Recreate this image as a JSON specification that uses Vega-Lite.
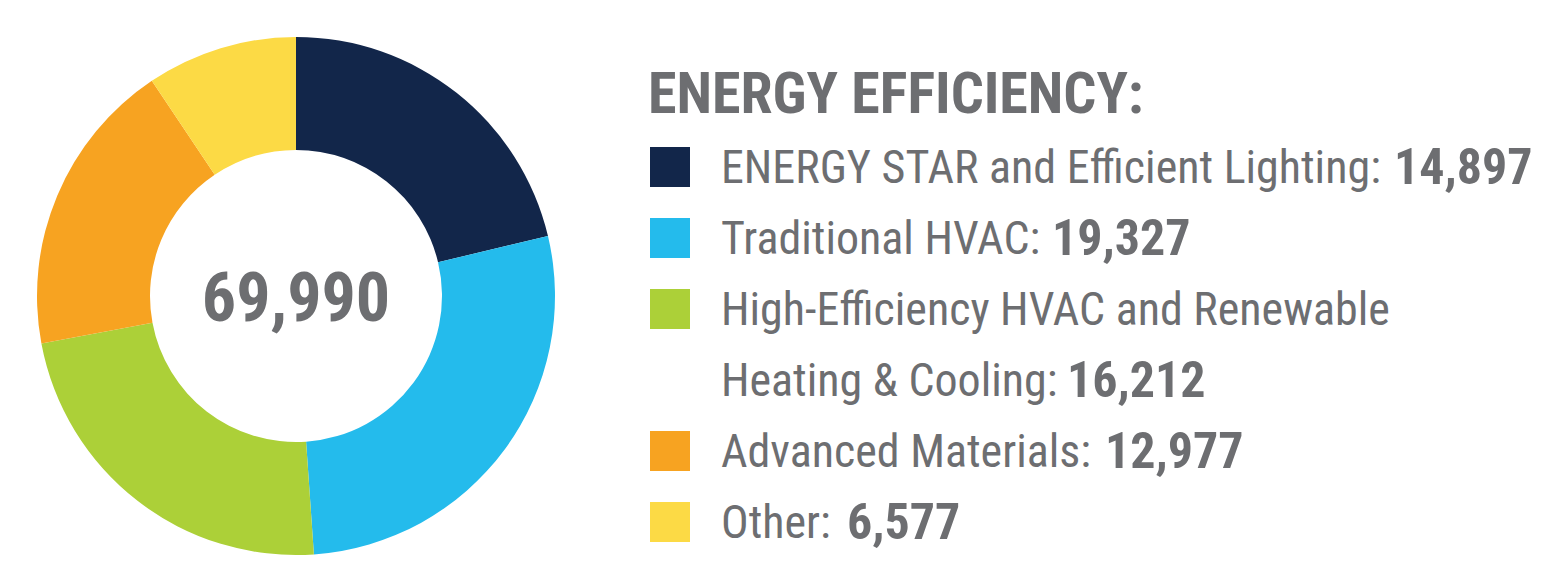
{
  "$schema": "https://vega.github.io/schema/vega-lite/v6.json",
  "padding": {"top": 9, "left": 0, "right": 0, "bottom": 0},
  "spacing": 0,
  "background": "white",
  "config": {"view": {"stroke": null}},
  "datasets": {
    "energy": [
      {"category": "ENERGY STAR and Efficient Lighting", "value": 14897},
      {"category": "Traditional HVAC", "value": 19327},
      {"category": "High-Efficiency HVAC and Renewable Heating & Cooling", "value": 16212},
      {"category": "Advanced Materials", "value": 12977},
      {"category": "Other", "value": 6577}
    ],
    "lines": [
      {"text": "ENERGY EFFICIENCY:", "kind": "title"},
      {"text": "ENERGY STAR and Efficient Lighting:", "kind": "label", "category": "ENERGY STAR and Efficient Lighting", "first": true, "last": true},
      {"text": "Traditional HVAC:", "kind": "label", "category": "Traditional HVAC", "first": true, "last": true},
      {"text": "High-Efficiency HVAC and Renewable", "kind": "label", "category": "High-Efficiency HVAC and Renewable Heating & Cooling", "first": true, "last": false},
      {"text": "Heating & Cooling:", "kind": "label", "category": "High-Efficiency HVAC and Renewable Heating & Cooling", "first": false, "last": true},
      {"text": "Advanced Materials:", "kind": "label", "category": "Advanced Materials", "first": true, "last": true},
      {"text": "Other:", "kind": "label", "category": "Other", "first": true, "last": true}
    ]
  },
  "hconcat": [
    {
      "width": 592,
      "height": 574,
      "data": {"name": "energy"},
      "transform": [{"window": [{"op": "row_number", "as": "idx"}]}],
      "layer": [
        {
          "mark": {"type": "arc", "outerRadius": 259, "innerRadius": 146, "stroke": null},
          "encoding": {
            "theta": {"field": "value", "type": "quantitative", "stack": true},
            "order": {"field": "idx", "type": "quantitative"},
            "color": {
              "field": "category",
              "type": "nominal",
              "scale": {
                "domain": ["ENERGY STAR and Efficient Lighting", "Traditional HVAC", "High-Efficiency HVAC and Renewable Heating & Cooling", "Advanced Materials", "Other"],
                "range": ["#12264a", "#24bbec", "#acd038", "#f7a321", "#fcda45"]
              },
              "legend": null
            }
          }
        },
        {
          "mark": {"type": "text", "font": "Roboto Condensed, DejaVu Sans Condensed, sans-serif", "fontSize": 68, "fontWeight": "bold", "color": "#6d6e71", "align": "center", "baseline": "middle", "dy": 5},
          "encoding": {
            "text": {"aggregate": "sum", "field": "value", "type": "quantitative", "format": ","}
          }
        }
      ]
    },
    {
      "width": 954,
      "height": 574,
      "data": {"name": "lines"},
      "transform": [
        {"window": [{"op": "row_number", "as": "line"}]},
        {"lookup": "category", "from": {"data": {"name": "energy"}, "key": "category", "fields": ["value"]}}
      ],
      "encoding": {
        "y": {"field": "line", "type": "quantitative", "scale": {"domain": [-0.2254, 7.859], "reverse": true, "nice": false, "zero": false}, "axis": null}
      },
      "layer": [
        {
          "transform": [{"filter": "datum.kind == 'title'"}],
          "mark": {"type": "text", "x": 56, "align": "left", "baseline": "middle", "font": "Roboto Condensed, DejaVu Sans Condensed, sans-serif", "fontSize": 58, "fontWeight": "bold", "color": "#6d6e71"},
          "encoding": {"text": {"field": "text", "type": "nominal"}}
        },
        {
          "transform": [{"filter": "datum.first == true"}],
          "mark": {"type": "square", "x": 78, "size": 1600, "opacity": 1, "filled": true, "strokeWidth": 0},
          "encoding": {
            "color": {"field": "category", "type": "nominal", "scale": {
                "domain": ["ENERGY STAR and Efficient Lighting", "Traditional HVAC", "High-Efficiency HVAC and Renewable Heating & Cooling", "Advanced Materials", "Other"],
                "range": ["#12264a", "#24bbec", "#acd038", "#f7a321", "#fcda45"]
              }, "legend": null}
          }
        },
        {
          "transform": [{"filter": "datum.kind == 'label'"}],
          "mark": {"type": "text", "x": 129, "dy": 2, "align": "left", "baseline": "middle", "font": "Roboto Condensed, DejaVu Sans Condensed, sans-serif", "fontSize": 46, "color": "#6d6e71"},
          "encoding": {"text": {"field": "text", "type": "nominal"}}
        },
        {
          "transform": [{"filter": "datum.last == true && datum.category == 'ENERGY STAR and Efficient Lighting'"}],
          "mark": {"type": "text", "x": 129, "dx": 673, "dy": 2, "align": "left", "baseline": "middle", "font": "Roboto Condensed, DejaVu Sans Condensed, sans-serif", "fontSize": 50, "fontWeight": "bold", "color": "#6d6e71"},
          "encoding": {"text": {"field": "value", "type": "quantitative", "format": ","}}
        },
        {
          "transform": [{"filter": "datum.last == true && datum.category == 'Traditional HVAC'"}],
          "mark": {"type": "text", "x": 129, "dx": 331, "dy": 2, "align": "left", "baseline": "middle", "font": "Roboto Condensed, DejaVu Sans Condensed, sans-serif", "fontSize": 50, "fontWeight": "bold", "color": "#6d6e71"},
          "encoding": {"text": {"field": "value", "type": "quantitative", "format": ","}}
        },
        {
          "transform": [{"filter": "datum.last == true && datum.category == 'High-Efficiency HVAC and Renewable Heating & Cooling'"}],
          "mark": {"type": "text", "x": 129, "dx": 346, "dy": 2, "align": "left", "baseline": "middle", "font": "Roboto Condensed, DejaVu Sans Condensed, sans-serif", "fontSize": 50, "fontWeight": "bold", "color": "#6d6e71"},
          "encoding": {"text": {"field": "value", "type": "quantitative", "format": ","}}
        },
        {
          "transform": [{"filter": "datum.last == true && datum.category == 'Advanced Materials'"}],
          "mark": {"type": "text", "x": 129, "dx": 384, "dy": 2, "align": "left", "baseline": "middle", "font": "Roboto Condensed, DejaVu Sans Condensed, sans-serif", "fontSize": 50, "fontWeight": "bold", "color": "#6d6e71"},
          "encoding": {"text": {"field": "value", "type": "quantitative", "format": ","}}
        },
        {
          "transform": [{"filter": "datum.last == true && datum.category == 'Other'"}],
          "mark": {"type": "text", "x": 129, "dx": 126, "dy": 2, "align": "left", "baseline": "middle", "font": "Roboto Condensed, DejaVu Sans Condensed, sans-serif", "fontSize": 50, "fontWeight": "bold", "color": "#6d6e71"},
          "encoding": {"text": {"field": "value", "type": "quantitative", "format": ","}}
        }
      ]
    }
  ]
}
